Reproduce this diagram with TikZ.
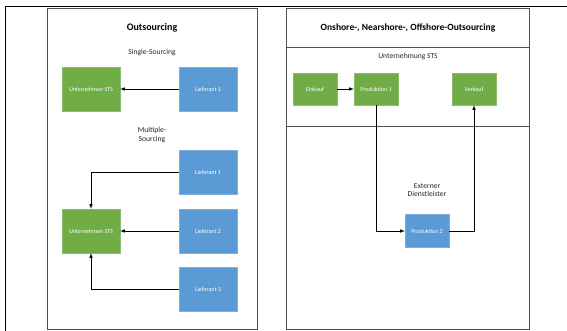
\documentclass[tikz,border=0pt]{standalone}
\usepackage{fontspec}
\setmainfont{Carlito}
\usepackage{xcolor}
\usepackage{tikz}
\usetikzlibrary{arrows, positioning, calc}
\definecolor{stsgreen}{HTML}{70AD47}
\definecolor{liefblue}{HTML}{5B9BD5}
\definecolor{framegray}{HTML}{505050}
\tikzstyle{arrow} = [semithick,->,>=latex]
\tikzstyle{panel} = [rectangle, draw=framegray, line width=0.9pt]
\tikzstyle{greenbox} = [rectangle, fill=stsgreen, draw=stsgreen!80!white, text=white, font=\fontsize{6}{7}\selectfont, inner sep=0pt]
\tikzstyle{bluebox} = [rectangle, fill=liefblue, draw=liefblue!80!white, text=white, font=\fontsize{6}{7}\selectfont, inner sep=0pt]
\tikzstyle{label} = [font=\fontsize{7.6}{8.6}\selectfont, align=center, text=black!85]

\begin{document}
\begin{tikzpicture}[x=1pt, y=-1pt]
    \useasboundingbox (0,0) rectangle (567,331);
    % Outer frame
    \draw[line width=0.9pt] (5,331) -- (5,6) -- (567,6);

    % Left panel
    \node[panel, minimum width=210pt, minimum height=321pt] (outpanel) at (152,168.5) {};
    \node[font=\bfseries\fontsize{10}{12}\selectfont] (outtitle) at (152,28) {Outsourcing};
    \node[label] (single) at (152,53) {Single-Sourcing};
    \node[greenbox, minimum width=58pt, minimum height=44pt] (stsA) at (91,89) {Unternehmen STS};
    \node[bluebox, minimum width=58pt, minimum height=44pt] (liefA) at (208,89) {Lieferant 1};
    \node[label] (multiple) at (152,135) {Multiple-\\Sourcing};
    \node[bluebox, minimum width=58pt, minimum height=44pt] (liefB) at (208,172) {Lieferant 1};
    \node[greenbox, minimum width=58pt, minimum height=44pt] (stsB) at (91,231) {Unternehmen STS};
    \node[bluebox, minimum width=58pt, minimum height=44pt] (liefC) at (208,231) {Lieferant 2};
    \node[bluebox, minimum width=58pt, minimum height=44pt] (liefD) at (208,289) {Lieferant 3};

    % Right panel
    \node[panel, minimum width=243pt, minimum height=321pt] (offpanel) at (407.5,168.5) {};
    \draw[framegray, line width=0.9pt] (offpanel.west |- 0,47) -- (offpanel.east |- 0,47);
    \draw[framegray, line width=0.9pt] (offpanel.west |- 0,126) -- (offpanel.east |- 0,126);
    \node[font=\bfseries\fontsize{9.5}{11}\selectfont] (offtitle) at (408,28) {Onshore-, Nearshore-, Offshore-Outsourcing};
    \node[label] (firma) at (408,57) {Unternehmung STS};
    \node[greenbox, minimum width=44pt, minimum height=32pt] (einkauf) at (315,89) {Einkauf};
    \node[greenbox, minimum width=44pt, minimum height=32pt] (prod1) at (376,89) {Produktion 1};
    \node[greenbox, minimum width=44pt, minimum height=32pt] (verkauf) at (474,89) {Verkauf};
    \node[label] (extern) at (427,190) {Externer\\Dienstleister};
    \node[bluebox, minimum width=44pt, minimum height=33pt] (prod2) at (427,231) {Produktion 2};

    % Arrows
    \draw[arrow] (liefA) -- (stsA);
    \draw[arrow] (liefB) -| (stsB);
    \draw[arrow] (liefC) -- (stsB);
    \draw[arrow] (liefD) -| (stsB);
    \draw[arrow] (einkauf) -- (prod1);
    \draw[arrow] (prod1) |- (prod2);
    \draw[arrow] (prod2) -| (verkauf);
\end{tikzpicture}
\end{document}
